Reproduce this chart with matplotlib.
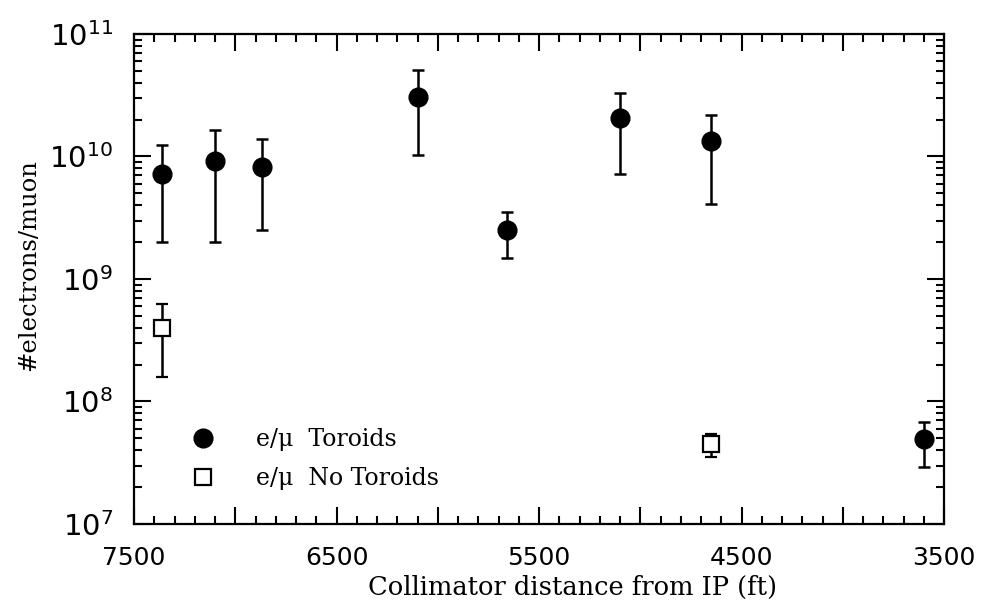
import matplotlib
matplotlib.use("Agg")
import matplotlib.pyplot as plt
from matplotlib.lines import Line2D
from matplotlib.ticker import LogLocator, MultipleLocator, NullFormatter

# e/mu with toroids
tor_x = [7360, 7100, 6870, 6100, 5660, 5100, 4650, 3600]
tor_y = [7.2e9, 9.2e9, 8.2e9, 3.05e10, 2.5e9, 2.05e10, 1.34e10, 4.9e7]
tor_lo = [2.0e9, 2.0e9, 2.5e9, 1.03e10, 1.48e9, 7.2e9, 4.1e9, 2.9e7]
tor_hi = [1.24e10, 1.65e10, 1.39e10, 5.1e10, 3.5e9, 3.3e10, 2.2e10, 6.8e7]

# e/mu without toroids
not_x = [7360, 4650]
not_y = [4.0e8, 4.5e7]
not_lo = [1.58e8, 3.5e7]
not_hi = [6.25e8, 5.4e7]

x_ticks = [7500, 6500, 5500, 4500, 3500]
legend_labels = ["e/\u03bc  Toroids", "e/\u03bc  No Toroids"]

SANS = "DejaVu Sans"
SERIF = "DejaVu Serif"

plt.rcParams["mathtext.fontset"] = "custom"
plt.rcParams["mathtext.rm"] = SANS
plt.rcParams["mathtext.default"] = "rm"

fig = plt.figure(figsize=(9.81, 6.09), dpi=100)
ax = fig.add_axes([0.1366, 0.1396, 0.8257, 0.8046])


def errs(y, lo, hi):
    return [[v - l for v, l in zip(y, lo)], [h - v for v, h in zip(y, hi)]]


ax.errorbar(tor_x, tor_y, yerr=errs(tor_y, tor_lo, tor_hi), fmt="o", color="black",
            ms=13.5, elinewidth=1.8, capsize=4.5, capthick=1.8, zorder=3)
ax.errorbar(not_x, not_y, yerr=errs(not_y, not_lo, not_hi), fmt="s", color="black",
            mfc="white", mec="black", mew=1.6, ms=11, elinewidth=1.8, capsize=4.5,
            capthick=1.8, zorder=3)

ax.set_yscale("log")
ax.set_ylim(1e7, 1e11)
ax.set_xlim(7500, 3500)

ax.xaxis.set_major_locator(MultipleLocator(500))
ax.xaxis.set_minor_locator(MultipleLocator(100))
ax.set_xticklabels([])
for xt in x_ticks:
    ax.text(xt, -0.045, str(xt), transform=ax.get_xaxis_transform(), ha="center",
            va="top", fontsize=18, family=SANS)

ax.yaxis.set_major_locator(LogLocator(base=10, numticks=10))
ax.yaxis.set_minor_locator(LogLocator(base=10, subs=range(2, 10), numticks=10))
ax.yaxis.set_minor_formatter(NullFormatter())

ax.tick_params(which="both", direction="in", top=True, right=True, width=1.5)
ax.tick_params(which="major", length=12)
ax.tick_params(which="minor", length=5.5)
ax.tick_params(axis="y", which="major", labelsize=21, pad=15)
for s in ax.spines.values():
    s.set_linewidth(1.6)

ax.set_xlabel("Collimator distance from IP (ft)", family=SERIF, fontsize=18.5)
ax.xaxis.set_label_coords(0.541, -0.104)
ax.set_ylabel("#electrons/muon", family=SERIF, fontsize=17.5)
ax.yaxis.set_label_coords(-0.116, 0.529)

handles = [
    Line2D([], [], ls="none", marker="o", color="black", ms=13.5),
    Line2D([], [], ls="none", marker="s", mfc="white", mec="black", mew=1.6, ms=11),
]
ax.legend(handles, legend_labels, loc="lower left",
          bbox_to_anchor=(0.030, 0.025), frameon=False, handletextpad=1.22,
          labelspacing=0.69, prop={"family": SERIF, "size": 17})

fig.savefig("out.png", dpi=100)
